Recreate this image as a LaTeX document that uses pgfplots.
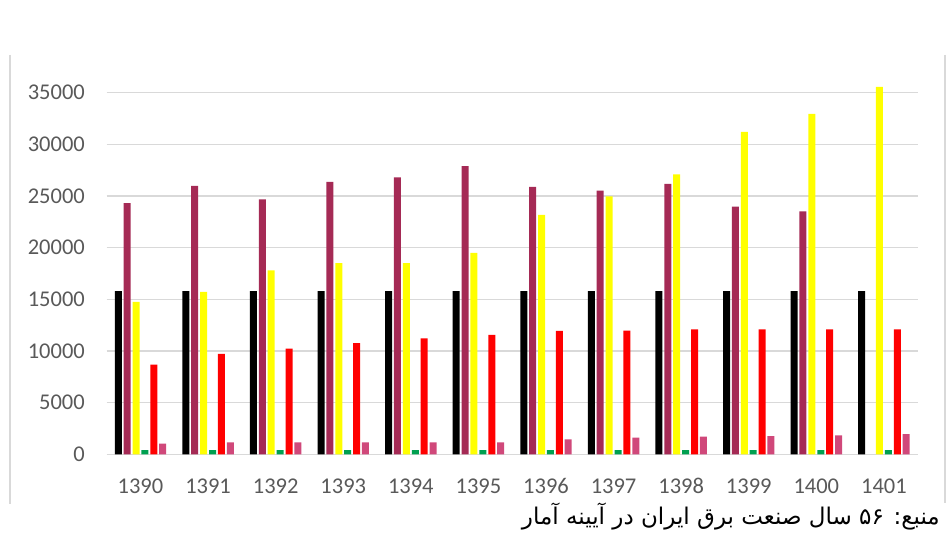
\documentclass[border=0pt]{standalone}
\usepackage{fontspec}
\setmainfont{Carlito}
\newfontfamily\arabicfont[Script=Arabic]{DejaVu Sans}
\TeXXeTstate=1
\usepackage{pgfplots}
\pgfplotsset{compat=1.18}
\definecolor{gridc}{HTML}{D9D9D9}
\definecolor{labc}{HTML}{595959}
\definecolor{cmaroon}{HTML}{A52A55}
\definecolor{cyellow}{HTML}{FFFF00}
\definecolor{cgreen}{HTML}{00A050}
\definecolor{cred}{HTML}{FF0000}
\definecolor{cpink}{HTML}{D0487A}
\begin{document}
\begin{tikzpicture}[x=1pt,y=1pt]
\useasboundingbox (0,0) rectangle (946,545);
\draw[gridc, line width=1.5pt] (10,490) -- (10,41);
\draw[gridc, line width=1.5pt] (945,490) -- (945,42);
\begin{axis}[
  at={(106.7pt,90.7pt)}, anchor=south west,
  scale only axis, width=811pt, height=413.3pt,
  xmin=-0.5, xmax=11.5, ymin=0, ymax=40000,
  axis line style={draw=none},
  ybar, bar width=0.1035,
  xtick={0,...,11},
  xticklabels={1390,1391,1392,1393,1394,1395,1396,1397,1398,1399,1400,1401},
  ytick={0,5000,...,35000},
  scaled y ticks=false,
  /pgf/number format/assume math mode=true,
  /pgf/number format/1000 sep={},
  major tick length=0pt,
  ymajorgrids, grid style={gridc, line width=1.3pt},
  tick label style={font=\fontsize{22.5}{26}\selectfont, text=labc, text height=14.2pt, text depth=0pt},
  yticklabel style={anchor=east, inner sep=0pt, xshift=-21.7pt},
  xticklabel style={anchor=center, inner sep=0pt, yshift=-32.4pt},
  clip=false,
]
\addplot[draw=none, fill=black, bar shift=-0.329] coordinates {
(0,15780) (1,15780) (2,15780) (3,15780) (4,15780) (5,15780) (6,15780) (7,15780) (8,15780) (9,15780) (10,15780) (11,15780)};
\addplot[draw=none, fill=cmaroon, bar shift=-0.198] coordinates {
(0,24300) (1,25970) (2,24680) (3,26360) (4,26810) (5,27880) (6,25880) (7,25520) (8,26170) (9,23970) (10,23520)};
\addplot[draw=none, fill=cyellow, bar shift=-0.066] coordinates {
(0,14740) (1,15710) (2,17810) (3,18490) (4,18490) (5,19490) (6,23170) (7,24970) (8,27100) (9,31200) (10,32940) (11,35560)};
\addplot[draw=none, fill=cgreen, bar shift=0.066] coordinates {
(0,400) (1,400) (2,400) (3,400) (4,400) (5,400) (6,400) (7,400) (8,400) (9,400) (10,400) (11,410)};
\addplot[draw=none, fill=cred, bar shift=0.198] coordinates {
(0,8670) (1,9710) (2,10220) (3,10770) (4,11230) (5,11550) (6,11940) (7,11970) (8,12100) (9,12100) (10,12100) (11,12100)};
\addplot[draw=none, fill=cpink, bar shift=0.329] coordinates {
(0,1030) (1,1160) (2,1160) (3,1160) (4,1160) (5,1160) (6,1450) (7,1610) (8,1700) (9,1770) (10,1830) (11,1940)};
\end{axis}
\node[anchor=base east, inner sep=0pt, font=\fontsize{23}{26}\selectfont] at (940,20) {\arabicfont\beginR منبع: ۵۶ سال صنعت برق ایران در آیینه آمار\endR};
\end{tikzpicture}
\end{document}
